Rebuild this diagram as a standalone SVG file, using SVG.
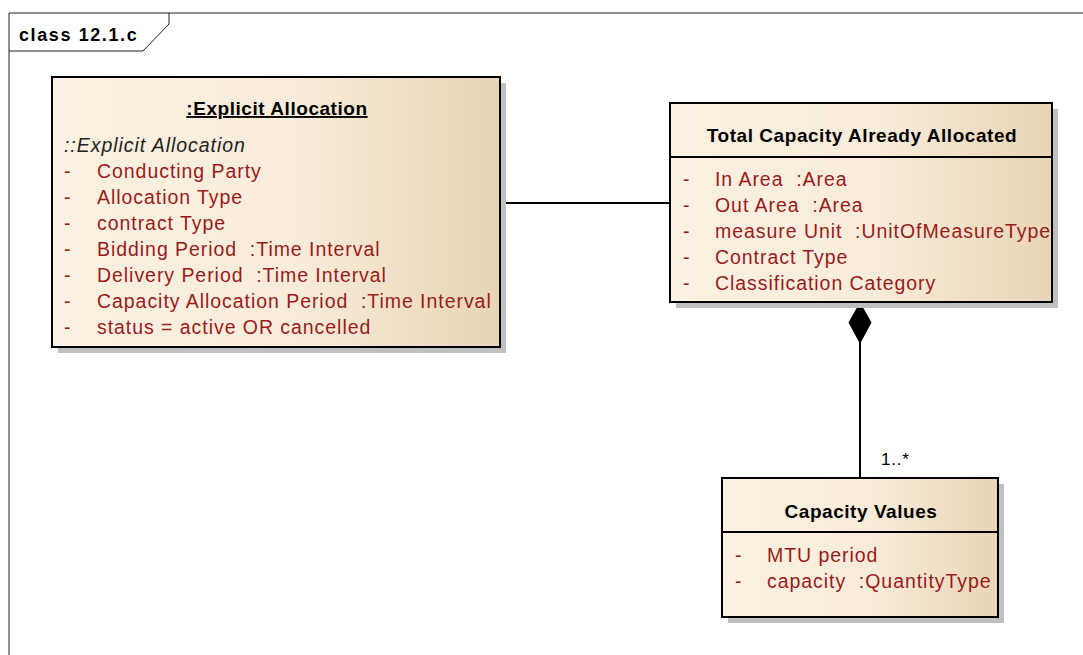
<svg xmlns="http://www.w3.org/2000/svg" width="1083" height="655" viewBox="0 0 1083 655">
  <defs>
    <linearGradient id="fill" x1="0" y1="0" x2="1" y2="0">
      <stop offset="0" stop-color="#fcf1e2"/>
      <stop offset="0.55" stop-color="#f8ebd9"/>
      <stop offset="1" stop-color="#e8d5b6"/>
    </linearGradient>
    <style>
      text { font-family: "Liberation Sans", Arial, sans-serif; white-space: pre; }
      .frame { fill: none; stroke: #222; stroke-width: 1; }
      .flabel { font-size: 18px; font-weight: bold; letter-spacing: 1.6px; fill: #000; }
      .shadow { fill: #bfbfbf; }
      .box { fill: url(#fill); stroke: #000; stroke-width: 2; }
      .div { stroke: #000; stroke-width: 2; }
      .title { font-size: 19px; font-weight: bold; letter-spacing: 0.55px; fill: #000; text-anchor: middle; }
      .uline { text-decoration: underline; }
      .ital { font-size: 19.5px; font-style: italic; letter-spacing: 0.95px; fill: #222; }
      .attr { font-size: 19.5px; letter-spacing: 0.95px; fill: #9a1b1b; }
      .conn { stroke: #000; stroke-width: 2; fill: none; }
      .mult { font-size: 17px; letter-spacing: 0.8px; fill: #000; }
    </style>
  </defs>

  <rect x="0" y="0" width="1083" height="655" fill="#ffffff"/>

  <g id="frame">
    <path class="frame" d="M9,655 V13 H1090"/>
    <path class="frame" d="M9,51 H143 L169,24 V13"/>
    <text class="flabel" x="19" y="41">class 12.1.c</text>
  </g>

  <g id="connectors">
    <line class="conn" x1="500" y1="203" x2="670" y2="203"/>
    <line class="conn" x1="860" y1="342" x2="860" y2="478"/>
    <polygon points="860,303 871,322.5 860,343 849,322.5" fill="#000" stroke="#000" stroke-width="1"/>
    <text class="mult" x="881" y="465">1..*</text>
  </g>

  <g id="explicit-allocation">
    <rect class="shadow" x="58" y="83" width="448" height="270"/>
    <rect class="box" x="52" y="77" width="448" height="270"/>
    <text class="title uline" x="277" y="115">:Explicit Allocation</text>
    <text class="ital" x="64" y="152">::Explicit Allocation</text>
    <g class="attrs">
      <text class="attr" x="64" y="178">-</text><text class="attr" x="97" y="178">Conducting Party</text>
      <text class="attr" x="64" y="204">-</text><text class="attr" x="97" y="204">Allocation Type</text>
      <text class="attr" x="64" y="230">-</text><text class="attr" x="97" y="230">contract Type</text>
      <text class="attr" x="64" y="256">-</text><text class="attr" x="97" y="256">Bidding Period  :Time Interval</text>
      <text class="attr" x="64" y="282">-</text><text class="attr" x="97" y="282">Delivery Period  :Time Interval</text>
      <text class="attr" x="64" y="308">-</text><text class="attr" x="97" y="308">Capacity Allocation Period  :Time Interval</text>
      <text class="attr" x="64" y="334">-</text><text class="attr" x="97" y="334">status = active OR cancelled</text>
    </g>
  </g>

  <g id="total-capacity">
    <rect class="shadow" x="676" y="109" width="382" height="199"/>
    <rect class="box" x="670" y="103" width="382" height="199"/>
    <line class="div" x1="670" y1="157" x2="1052" y2="157"/>
    <text class="title" x="862" y="142">Total Capacity Already Allocated</text>
    <text class="attr" x="683" y="186">-</text><text class="attr" x="715" y="186">In Area  :Area</text>
    <text class="attr" x="683" y="212">-</text><text class="attr" x="715" y="212">Out Area  :Area</text>
    <text class="attr" x="683" y="238">-</text><text class="attr" x="715" y="238">measure Unit  :UnitOfMeasureType</text>
    <text class="attr" x="683" y="264">-</text><text class="attr" x="715" y="264">Contract Type</text>
    <text class="attr" x="683" y="290">-</text><text class="attr" x="715" y="290">Classification Category</text>
  </g>

  <g id="capacity-values">
    <rect class="shadow" x="728" y="484" width="276" height="139"/>
    <rect class="box" x="722" y="478" width="276" height="139"/>
    <line class="div" x1="722" y1="532" x2="998" y2="532"/>
    <text class="title" x="861" y="518">Capacity Values</text>
    <text class="attr" x="735" y="562">-</text><text class="attr" x="767" y="562">MTU period</text>
    <text class="attr" x="735" y="588">-</text><text class="attr" x="767" y="588">capacity  :QuantityType</text>
  </g>
</svg>
